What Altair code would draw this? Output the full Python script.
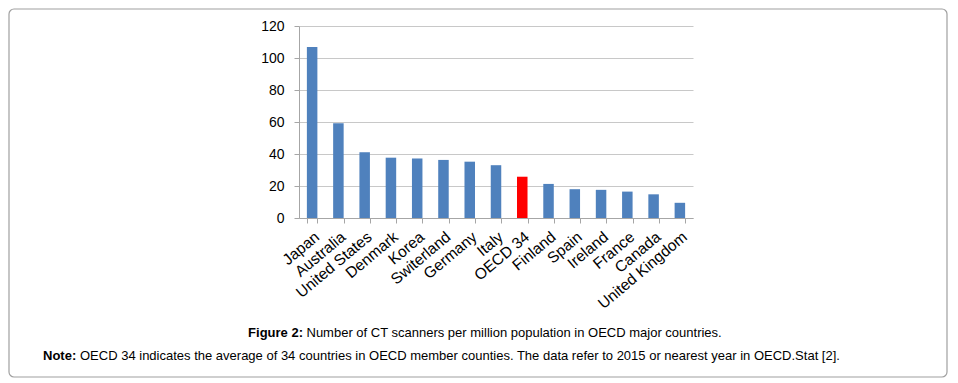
import altair as alt
import pandas as pd

countries = ["Japan", "Australia", "United States", "Denmark", "Korea", "Switerland",
             "Germany", "Italy", "OECD 34", "Finland", "Spain", "Ireland", "France",
             "Canada", "United Kingdom"]
values = [106.8, 59.2, 41.1, 37.7, 37.2, 36.3, 35.2, 33.0, 25.8, 21.3, 18.0, 17.6,
          16.5, 14.8, 9.5]
highlight = "OECD 34"
y_ticks = [0, 20, 40, 60, 80, 100, 120]

caption_bold = "Figure 2:"
caption_text = "Number of CT scanners per million population in OECD major countries."
note_bold = "Note:"
note_text = ("OECD 34 indicates the average of 34 countries in OECD member counties. "
             "The data refer to 2015 or nearest year in OECD.Stat [2].")

FONT = "Liberation Sans"
W, H = 394, 192
PAD_L, PAD_T = 291, 18
SVG_W, SVG_H = 940, 370

df = pd.DataFrame({"country": countries, "value": values})

bars = alt.Chart(df).mark_bar().encode(
    x=alt.X("country:N", sort=countries, title=None,
            scale=alt.Scale(paddingInner=0.6, paddingOuter=0.3),
            axis=alt.Axis(labelAngle=-40, labelFontSize=15.5, labelFont=FONT,
                          labelColor="#000000", domainColor="#a6a6a6",
                          tickColor="#a6a6a6", tickSize=5, tickBand="extent",
                          labelPadding=6, labelOverlap=False)),
    y=alt.Y("value:Q", title=None,
            scale=alt.Scale(domain=[0, 120], nice=False),
            axis=alt.Axis(values=y_ticks, labelFontSize=14, labelFont=FONT,
                          labelColor="#000000", domainColor="#a6a6a6",
                          tickColor="#a6a6a6", tickSize=5, labelPadding=10,
                          gridColor="#c8c8c8")),
    color=alt.condition(alt.datum.country == highlight,
                        alt.value("#ff0000"), alt.value("#4f81bd")),
)

def text_layer(txt, x, y, align, bold):
    return alt.Chart(pd.DataFrame({"t": [txt]})).mark_text(
        align=align, baseline="middle", font=FONT, fontSize=13,
        fontWeight="bold" if bold else "normal", color="#000000"
    ).encode(text="t:N", x=alt.value(x), y=alt.value(y))

border = alt.Chart(pd.DataFrame({"t": [0]})).mark_rect(
    fill=None, stroke="#a0a0a0", strokeWidth=1.2, cornerRadius=5
).encode(
    x=alt.value(-PAD_L + 1), x2=alt.value(SVG_W - PAD_L - 1),
    y=alt.value(-PAD_T + 1), y2=alt.value(SVG_H - PAD_T - 1),
)

chart = alt.layer(
    border,
    bars,
    text_layer(caption_bold, 4, 307, "right", True),
    text_layer(caption_text, 7.5, 307, "left", False),
    text_layer(note_bold, -256, 330, "left", True),
    text_layer(note_text, -219, 330, "left", False),
).properties(
    width=W, height=H,
    autosize=alt.AutoSizeParams(type="none"),
    padding={"left": PAD_L, "top": PAD_T,
             "right": SVG_W - PAD_L - W, "bottom": SVG_H - PAD_T - H},
).configure_view(stroke=None)

chart.save("out.html", embed_options={"renderer": "svg", "actions": False})
